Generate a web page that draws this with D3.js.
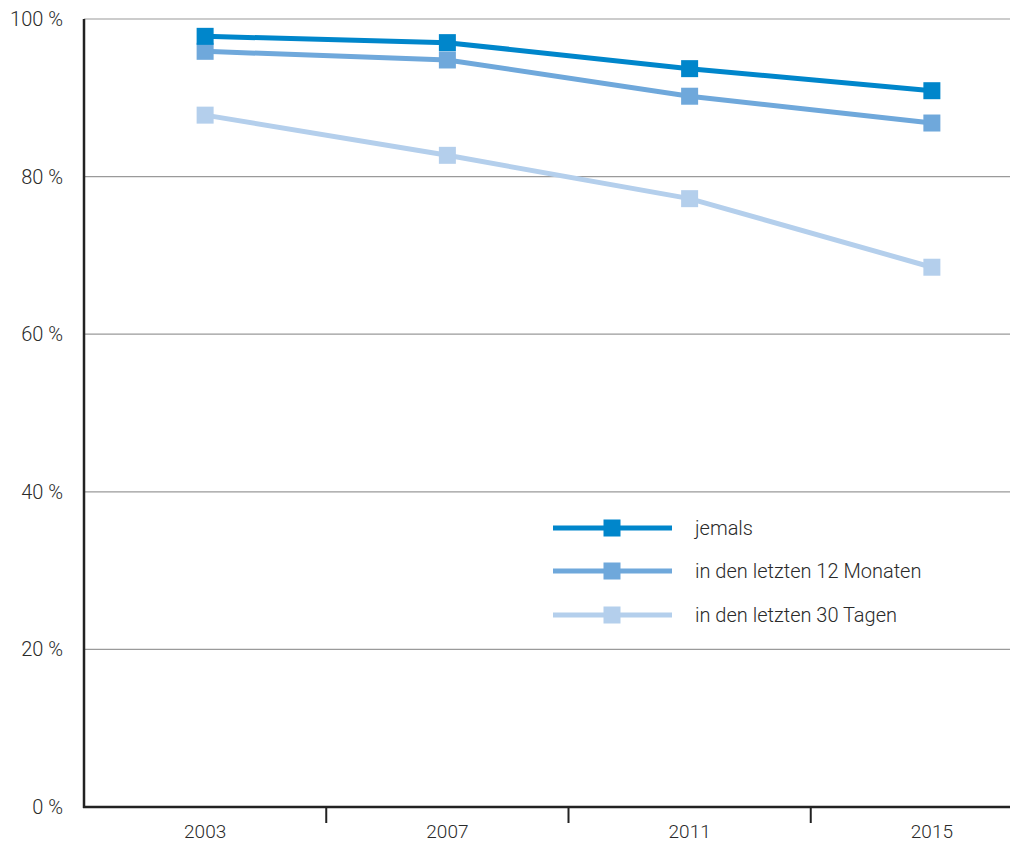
<!DOCTYPE html>
<html><head><meta charset="utf-8">
<script src="https://cdnjs.cloudflare.com/ajax/libs/d3/7.8.5/d3.min.js"></script>
<style>body{margin:0;background:#fff}svg{display:block}text{font-family:Roboto,"Liberation Sans",sans-serif;font-weight:300;fill:#2a2a2a}</style>
</head><body><svg id="c" width="1010" height="843"></svg>
<script>
const years = ["2003","2007","2011","2015"];
const jemals = [97.8, 97.0, 93.7, 90.9];
const monate12 = [95.9, 94.8, 90.2, 86.8];
const tage30 = [87.8, 82.7, 77.2, 68.5];
const seriesNames = ["jemals","in den letzten 12 Monaten","in den letzten 30 Tagen"];
const seriesColors = ["#0086CB","#6FA8DB","#B4CFEC"];
const yTicks = [0,20,40,60,80,100];

const svg = d3.select("#c");
const mLeft = 84, mTop = 19, mBottom = 807;
const x = d3.scaleBand().domain(years).range([mLeft, 1053]);
const y = d3.scaleLinear().domain([0,100]).range([mBottom, mTop]);

// gridlines
svg.append("g").selectAll("line").data(yTicks.filter(d=>d>0)).join("line")
  .attr("x1", mLeft).attr("x2", 1010).attr("y1", d=>y(d)).attr("y2", d=>y(d))
  .attr("stroke", "#9a9a9a").attr("stroke-width", 1.2);

// y labels
svg.append("g").selectAll("text").data(yTicks).join("text")
  .attr("x", 63).attr("y", d=>y(d)).attr("dy","0.35em").attr("text-anchor","end")
  .attr("font-size", 20).text(d=>d+" %");

// axes
svg.append("line").attr("x1", mLeft).attr("x2", mLeft).attr("y1", mTop).attr("y2", mBottom+1)
  .attr("stroke","#222").attr("stroke-width",2.5);
svg.append("line").attr("x1", mLeft-1).attr("x2", 1010).attr("y1", mBottom).attr("y2", mBottom)
  .attr("stroke","#222").attr("stroke-width",2.5);
// ticks between bands
svg.append("g").selectAll("line").data(years.slice(1)).join("line")
  .attr("x1", d=>x(d)).attr("x2", d=>x(d)).attr("y1", mBottom).attr("y2", mBottom+16)
  .attr("stroke","#222").attr("stroke-width",2);
// x labels
svg.append("g").selectAll("text").data(years).join("text")
  .attr("x", d=>x(d)+x.bandwidth()/2).attr("y", 838).attr("text-anchor","middle")
  .attr("font-size", 19).text(d=>d);

const data = [jemals, monate12, tage30];
const line = d3.line().x((d,i)=>x(years[i])+x.bandwidth()/2).y(d=>y(d));
const ms = 17;
data.slice().reverse().forEach((vals, ri) => {
  const k = data.length-1-ri;
  const g = svg.append("g");
  g.append("path").attr("d", line(vals)).attr("fill","none")
    .attr("stroke", seriesColors[k]).attr("stroke-width",5);
  g.selectAll("rect").data(vals).join("rect")
    .attr("x",(d,i)=>x(years[i])+x.bandwidth()/2-ms/2).attr("y",d=>y(d)-ms/2)
    .attr("width",ms).attr("height",ms).attr("fill",seriesColors[k]);
});

// legend
const ly = [528, 571, 615];
const lg = svg.append("g");
seriesNames.forEach((n,i)=>{
  lg.append("line").attr("x1",553).attr("x2",672).attr("y1",ly[i]).attr("y2",ly[i])
    .attr("stroke",seriesColors[i]).attr("stroke-width",5);
  lg.append("rect").attr("x",612-ms/2).attr("y",ly[i]-ms/2).attr("width",ms).attr("height",ms)
    .attr("fill",seriesColors[i]);
  lg.append("text").attr("x",695).attr("y",ly[i]).attr("dy","0.35em").attr("font-size",20).text(n);
});
</script></body></html>
